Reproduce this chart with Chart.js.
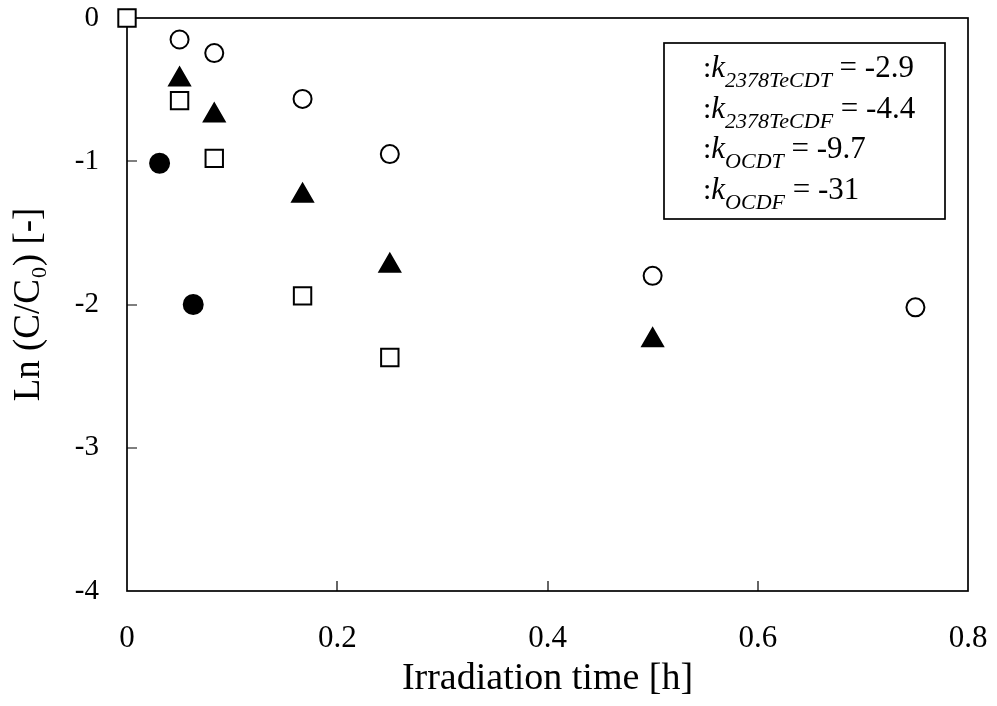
<!DOCTYPE html>
<html>
<head>
<meta charset="utf-8">
<script src="https://cdn.jsdelivr.net/npm/chart.js@4/dist/chart.umd.min.js"></script>
<style>
  html, body { margin: 0; padding: 0; background: #fff; }
  #wrap { width: 997px; height: 706px; }
</style>
</head>
<body>
<div id="wrap"><canvas id="chart"></canvas></div>
<script>
// ------------------------
// Data
// ------------------------
const xTicks = [0, 0.2, 0.4, 0.6, 0.8]
const yTicks = [0, -1, -2, -3, -4]

const tecdtTime = [0.05, 0.083, 0.167, 0.25, 0.5, 0.75]
const tecdtLn = [-0.15, -0.245, -0.565, -0.95, -1.80, -2.02]

const tecdfTime = [0.05, 0.083, 0.167, 0.25, 0.5]
const tecdfLn = [-0.43, -0.68, -1.24, -1.73, -2.25]

const ocdtTime = [0, 0.05, 0.083, 0.167, 0.25]
const ocdtLn = [0, -0.577, -0.98, -1.94, -2.37]

const ocdfTime = [0.031, 0.063]
const ocdfLn = [-1.014, -2.0]

const legendNames = ['2378TeCDT', '2378TeCDF', 'OCDT', 'OCDF']
const rateConstants = ['-2.9', '-4.4', '-9.7', '-31']

// ------------------------
// Helpers
// ------------------------
const toPoints = (xs, ys) => xs.map((x, i) => ({ x, y: ys[i] }))
const SERIF = '"Liberation Serif", "Times New Roman", serif'

// frame + inside ticks, drawn under the markers
const framePlugin = {
  id: 'frame',
  beforeDatasetsDraw(chart) {
    const { ctx, chartArea: a, scales } = chart
    ctx.save()
    ctx.strokeStyle = '#000'
    ctx.lineWidth = 1.7
    ctx.strokeRect(a.left, a.top, a.right - a.left, a.bottom - a.top)
    ctx.beginPath()
    xTicks.slice(1, -1).forEach((v) => {
      const px = Math.round(scales.x.getPixelForValue(v))
      ctx.moveTo(px, a.bottom)
      ctx.lineTo(px, a.bottom - 10)
    })
    yTicks.slice(1, -1).forEach((v) => {
      const py = Math.round(scales.y.getPixelForValue(v))
      ctx.moveTo(a.left, py)
      ctx.lineTo(a.left + 10, py)
    })
    ctx.lineWidth = 1.2
    ctx.stroke()
    ctx.restore()
  },
}

// text box in the upper right
const noteBoxPlugin = {
  id: 'noteBox',
  afterDraw(chart) {
    const { ctx } = chart
    const box = { left: 664, top: 43, width: 281, height: 176 }
    ctx.save()
    ctx.fillStyle = '#fff'
    ctx.fillRect(box.left, box.top, box.width, box.height)
    ctx.strokeStyle = '#000'
    ctx.lineWidth = 1.7
    ctx.strokeRect(box.left, box.top, box.width, box.height)
    ctx.fillStyle = '#000'
    ctx.textBaseline = 'alphabetic'
    legendNames.forEach((name, i) => {
      const base = 77 + i * 40.5
      let x = 703
      ctx.font = `30px ${SERIF}`
      ctx.fillText(':', x, base)
      x += ctx.measureText(':').width
      ctx.font = `italic 31px ${SERIF}`
      ctx.fillText('k', x, base)
      x += ctx.measureText('k').width
      ctx.font = `italic 22px ${SERIF}`
      ctx.fillText(name, x, base + 10)
      x += ctx.measureText(name).width
      ctx.font = `31px ${SERIF}`
      ctx.fillText(' = ' + rateConstants[i], x, base)
    })
    ctx.restore()
  },
}

// ------------------------
// Chart
// ------------------------
const element = document.querySelector('#chart')

const common = {
  showLine: false,
  borderColor: '#000',
  borderWidth: 2,
  clip: false,
}

// eslint-disable-next-line no-new
new Chart(element, {
  type: 'scatter',

  data: {
    datasets: [
      {
        ...common,
        label: legendNames[2],
        data: toPoints(ocdtTime, ocdtLn),
        pointStyle: 'rect',
        pointRadius: 12.3,
        backgroundColor: '#fff',
      },
      {
        ...common,
        label: legendNames[3],
        data: toPoints(ocdfTime, ocdfLn),
        pointStyle: 'circle',
        pointRadius: 9.5,
        backgroundColor: '#000',
      },
      {
        ...common,
        label: legendNames[0],
        data: toPoints(tecdtTime, tecdtLn),
        pointStyle: 'circle',
        pointRadius: 9,
        backgroundColor: '#fff',
      },
      {
        ...common,
        label: legendNames[1],
        data: toPoints(tecdfTime, tecdfLn),
        pointStyle: 'triangle',
        pointRadius: 12,
        backgroundColor: '#000',
      },
    ],
  },

  options: {
    responsive: true,
    maintainAspectRatio: false,
    animation: false,
    events: [],

    layout: {
      padding: { top: 18, right: 29, left: 0, bottom: 0 },
    },

    scales: {
      x: {
        type: 'linear',
        min: 0,
        max: 0.8,
        afterFit: (scale) => {
          scale.height = 115
          scale.paddingLeft = 0
          scale.paddingRight = 0
        },
        afterBuildTicks: (scale) => { scale.ticks = xTicks.map((value) => ({ value })) },
        grid: { display: false, drawTicks: false },
        border: { display: false },
        ticks: {
          padding: 29,
          maxRotation: 0,
          color: '#000',
          font: { family: SERIF, size: 31 },
        },
        title: {
          display: true,
          text: 'Irradiation time [h]',
          color: '#000',
          font: { family: SERIF, size: 38 },
          padding: { top: 0, bottom: 4 },
        },
      },
      y: {
        type: 'linear',
        min: -4,
        max: 0,
        afterFit: (scale) => {
          scale.width = 127
          scale.paddingTop = 0
          scale.paddingBottom = 0
        },
        afterBuildTicks: (scale) => { scale.ticks = yTicks.map((value) => ({ value })) },
        grid: { display: false, drawTicks: false },
        border: { display: false },
        ticks: {
          padding: 28,
          color: '#000',
          font: { family: SERIF, size: 29 },
        },
        title: {
          display: true,
          text: 'Ln (C/C\u2080) [-]',
          color: '#000',
          font: { family: SERIF, size: 37 },
          padding: { top: 7, bottom: 0 },
        },
      },
    },

    plugins: {
      legend: { display: false },
      tooltip: { enabled: false },
    },
  },

  plugins: [framePlugin, noteBoxPlugin],
})
</script>
</body>
</html>
